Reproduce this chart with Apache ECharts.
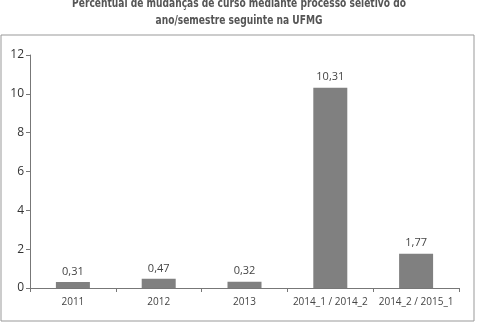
<!DOCTYPE html>
<html>
<head>
<meta charset="utf-8">
<script src="https://cdn.jsdelivr.net/npm/echarts@6/dist/echarts.min.js"></script>
<style>
  html, body { margin: 0; padding: 0; background: #fff; }
  #chart { width: 478px; height: 332px; }
</style>
</head>
<body>
<div id="chart"></div>
<script>
const titleLines = ['Percentual de mudanças de curso mediante processo seletivo do', 'ano/semestre seguinte na UFMG'];
const categories = ['2011', '2012', '2013', '2014_1 / 2014_2', '2014_2 / 2015_1'];
const values = [0.31, 0.47, 0.32, 10.31, 1.77];
const yTicks = [0, 2, 4, 6, 8, 10, 12];

const chart = echarts.init(document.getElementById('chart'));

// condensed title look: no narrow font installed, so squeeze the text horizontally
const titleText = (text, y) => ({
  type: 'text',
  x: 239,
  y: y,
  scaleX: 0.7,
  silent: true,
  style: {
    text: text,
    textAlign: 'center',
    textVerticalAlign: 'middle',
    fontFamily: '"DejaVu Sans", sans-serif',
    fontSize: 13,
    fontWeight: 'bold',
    fill: '#555'
  }
});

chart.setOption({
  animation: false,
  graphic: [
    titleText(titleLines[0], 4),
    titleText(titleLines[1], 21),
    {
      type: 'rect',
      shape: { x: 1, y: 35, width: 473, height: 286 },
      style: { fill: 'none', stroke: '#999', lineWidth: 1 },
      silent: true
    }
  ],
  grid: { left: 30, right: 19, top: 55, bottom: 44 },
  xAxis: {
    type: 'category',
    data: categories,
    axisLine: { lineStyle: { color: '#777' } },
    axisTick: { show: true, length: 4, lineStyle: { color: '#777' } },
    axisLabel: {
      interval: 0,
      color: '#444',
      fontSize: 10,
      fontFamily: '"Open Sans", sans-serif',
      margin: 9
    }
  },
  yAxis: {
    type: 'value',
    min: yTicks[0],
    max: yTicks[yTicks.length - 1],
    interval: 2,
    splitLine: { show: false },
    axisLine: { show: true, lineStyle: { color: '#777' } },
    axisTick: { show: true, length: 4, lineStyle: { color: '#777' } },
    axisLabel: {
      color: '#333',
      fontSize: 12,
      fontFamily: '"Open Sans", sans-serif',
      margin: 6
    }
  },
  series: [{
    type: 'bar',
    data: values,
    barWidth: 34,
    itemStyle: { color: '#808080' },
    label: {
      show: true,
      position: 'top',
      distance: 5,
      color: '#444',
      fontSize: 11,
      fontFamily: '"Open Sans", sans-serif',
      formatter: p => String(p.value).replace('.', ',')
    }
  }]
});
</script>
</body>
</html>
